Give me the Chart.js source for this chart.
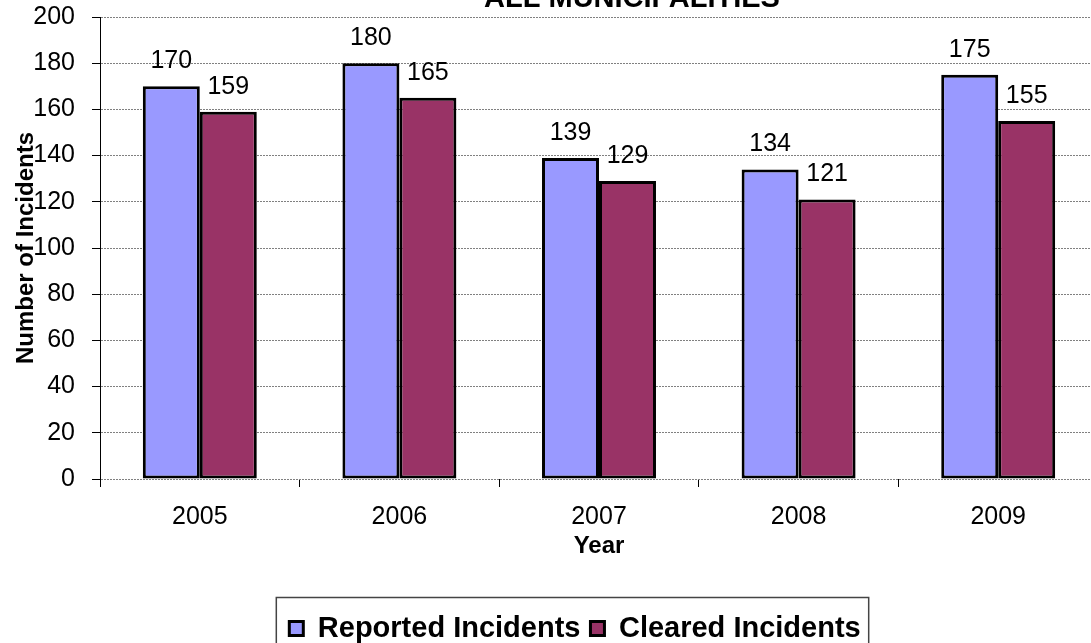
<!DOCTYPE html>
<html>
<head>
<meta charset="utf-8">
<script src="https://cdn.jsdelivr.net/npm/chart.js@4.4.1/dist/chart.umd.min.js"></script>
<style>
    html, body { margin: 0; padding: 0; overflow: hidden; background: #fff; }
    #wrap { position: absolute; left: 0; top: 0; width: 1100px; height: 660px; }
</style>
</head>
<body>
<div id="wrap"><canvas id="chart" width="1100" height="660"></canvas></div>
<script>
// datos
const years = ['2005', '2006', '2007', '2008', '2009'];
const reported = [170, 180, 139, 134, 175];
const cleared = [159, 165, 129, 121, 155];
const yTicks = [0, 20, 40, 60, 80, 100, 120, 140, 160, 180, 200];

const FONT = '"Liberation Sans", Arial, sans-serif';

// titulo cortado arriba
const tituloPlugin = {
    id: 'titulo',
    afterDraw(chart) {
        const ctx = chart.ctx;
        ctx.save();
        ctx.font = 'bold 29px ' + FONT;
        ctx.fillStyle = '#000';
        ctx.textAlign = 'center';
        ctx.textBaseline = 'alphabetic';
        ctx.fillText('ALL MUNICIPALITIES', 632, 7);
        ctx.restore();
    }
};

// valores encima de cada barra
const etiquetasPlugin = {
    id: 'etiquetas',
    afterDatasetsDraw(chart) {
        const ctx = chart.ctx;
        ctx.save();
        ctx.font = '25px ' + FONT;
        ctx.fillStyle = '#000';
        ctx.textAlign = 'center';
        ctx.textBaseline = 'alphabetic';
        chart.data.datasets.forEach((ds, i) => {
            chart.getDatasetMeta(i).data.forEach((bar, j) => {
                ctx.fillText(String(ds.data[j]), bar.x, bar.y - 18);
            });
        });
        ctx.restore();
    }
};

// mover la leyenda un poco a la derecha y ponerle marco
const marcoLeyenda = {
    id: 'marcoLeyenda',
    afterLayout(chart) {
        chart.legend.left += 26;
        chart.legend.right += 26;
    },
    afterDraw(chart) {
        const boxes = chart.legend.legendHitBoxes;
        if (!boxes || !boxes.length) return;
        const first = boxes[0];
        const last = boxes[boxes.length - 1];
        const cy = first.top + first.height / 2;
        const ctx = chart.ctx;
        ctx.save();
        ctx.strokeStyle = '#444';
        ctx.lineWidth = 1.5;
        ctx.strokeRect(first.left - 13, cy - 31, (last.left + last.width) - first.left + 21, 62);
        ctx.restore();
    }
};

const ctx = document.getElementById('chart').getContext('2d');
new Chart(ctx, {
    type: 'bar',
    data: {
        labels: years,
        datasets: [{
            label: 'Reported Incidents',
            data: reported,
            backgroundColor: '#9999FF',
            borderColor: '#000',
            borderWidth: 3,
            borderSkipped: false
        }, {
            label: 'Cleared Incidents',
            data: cleared,
            backgroundColor: '#993366',
            borderColor: '#000',
            borderWidth: 3,
            borderSkipped: false
        }]
    },
    options: {
        responsive: false,
        animation: false,
        devicePixelRatio: 1,
        layout: { padding: { top: 17, left: 0, right: 2, bottom: 7 } },
        datasets: {
            bar: { categoryPercentage: 0.571, barPercentage: 1 }
        },
        plugins: {
            title: { display: false },
            tooltip: { enabled: false },
            legend: {
                display: true,
                position: 'bottom',
                labels: {
                    color: '#000',
                    font: { family: FONT, size: 29, weight: 'bold' },
                    boxWidth: 14,
                    boxHeight: 14,
                    padding: 10
                }
            }
        },
        scales: {
            x: {
                afterFit(scale) { scale.height = 125; },
                grid: {
                    offset: true,
                    drawOnChartArea: false,
                    drawTicks: true,
                    tickLength: 8,
                    tickColor: '#000'
                },
                border: { display: false },
                ticks: {
                    color: '#000',
                    padding: 15,
                    maxRotation: 0,
                    font: { family: FONT, size: 25 }
                },
                title: {
                    display: true,
                    text: 'Year',
                    color: '#000',
                    font: { family: FONT, size: 24, weight: 'bold', lineHeight: 1.2 },
                    padding: { top: 0, bottom: 43 }
                }
            },
            y: {
                min: 0,
                max: 200,
                afterFit(scale) {
                    scale.width = 100;
                    scale.paddingTop = 0;
                    scale.paddingBottom = 0;
                },
                afterBuildTicks(scale) { scale.ticks = yTicks.map(v => ({ value: v })); },
                grid: {
                    color: '#808080',
                    lineWidth: 1,
                    drawTicks: true,
                    tickLength: 8,
                    tickColor: '#000',
                    tickBorderDash: []
                },
                border: { display: true, color: '#000', width: 1, dash: [2, 1] },
                ticks: {
                    color: '#000',
                    padding: 17,
                    font: { family: FONT, size: 25 }
                },
                title: {
                    display: true,
                    text: 'Number of Incidents',
                    color: '#000',
                    font: { family: FONT, size: 24, weight: 'bold', lineHeight: 1.2 },
                    padding: { top: 12, bottom: 0 }
                }
            }
        }
    },
    plugins: [tituloPlugin, etiquetasPlugin, marcoLeyenda]
});
</script>
</body>
</html>
